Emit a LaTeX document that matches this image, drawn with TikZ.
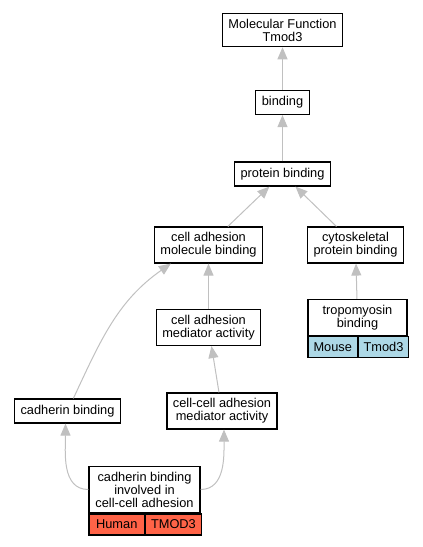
\documentclass[tikz,border=0pt]{standalone}
\usepackage{fontspec}
\setmainfont{Liberation Sans}
\usetikzlibrary{arrows.meta, positioning}
\definecolor{edgegray}{HTML}{C0C0C0}
\definecolor{humanred}{HTML}{FF6347}
\definecolor{mouseblue}{HTML}{ADD8E6}
\tikzstyle{term} = [rectangle, draw=black, line width=1.2pt, fill=white, align=center, inner xsep=6pt, inner ysep=5.5pt, minimum height=24pt, font=\fontsize{12.8pt}{13pt}\selectfont]
\tikzstyle{species} = [rectangle, draw=black, line width=1.2pt, minimum height=21pt, inner sep=0pt, font=\fontsize{12.8pt}{13pt}\selectfont]
\tikzstyle{arrow} = [draw=edgegray, line width=1pt, -{Triangle[length=12pt, width=10pt, fill=edgegray]}]

\begin{document}
\begin{tikzpicture}[on grid]
\useasboundingbox (0,0) rectangle (423pt,-547pt);

\node (mf) [term] at (282.5pt,-30pt) {Molecular Function\\Tmod3};
\node (binding) [term, below=72.5pt of mf] {binding};
\node (pbind) [term, below=71.5pt of binding] {protein binding};

\node (camb) [term, below left=71pt and 74pt of pbind] {cell adhesion\\molecule binding};
\node (cytb) [term, below right=71pt and 73pt of pbind] {cytoskeletal\\protein binding};

\node (trop) [term, minimum width=99pt, below right=72.5pt and 2pt of cytb] {tropomyosin\\binding};
\node (mouse) [species, fill=mouseblue, minimum width=49.5pt, anchor=north west] at (trop.south west) {Mouse};
\node (tmodm) [species, fill=mouseblue, minimum width=49.5pt, anchor=north west] at (mouse.north east) {Tmod3};

\node (camed) [term, below=82.5pt of camb] {cell adhesion\\mediator activity};
\node (ccmed) [term, below right=83.5pt and 13.5pt of camed] {cell-cell adhesion\\mediator activity};
\node (cb) [term, below left=83.5pt and 141pt of camed] {cadherin binding};

\node (inv) [term, minimum width=111pt, below left=78.5pt and 77.5pt of ccmed] {cadherin binding\\involved in\\cell-cell adhesion};
\node (human) [species, fill=humanred, minimum width=55.5pt, anchor=north west] at (inv.south west) {Human};
\node (tmodh) [species, fill=humanred, minimum width=55.5pt, anchor=north west] at (human.north east) {TMOD3};

\draw [arrow] (binding) -- (mf);
\draw [arrow] (pbind) -- (binding);
\draw [arrow] (camb) -- (pbind);
\draw [arrow] (cytb) -- (pbind);
\draw [arrow] (trop) -- (cytb);
\draw [arrow] (camed) -- (camb);
\draw [arrow] (ccmed) -- (camed);
\draw [arrow] (cb) to[out=65, in=215] ([xshift=17pt]camb.south west);
\draw [arrow] (inv.west) to[out=180, in=-90] ([xshift=-2pt]cb.south);
\draw [arrow] (inv.east) to[out=0, in=-90] ([xshift=2pt]ccmed.south);

\end{tikzpicture}
\end{document}
